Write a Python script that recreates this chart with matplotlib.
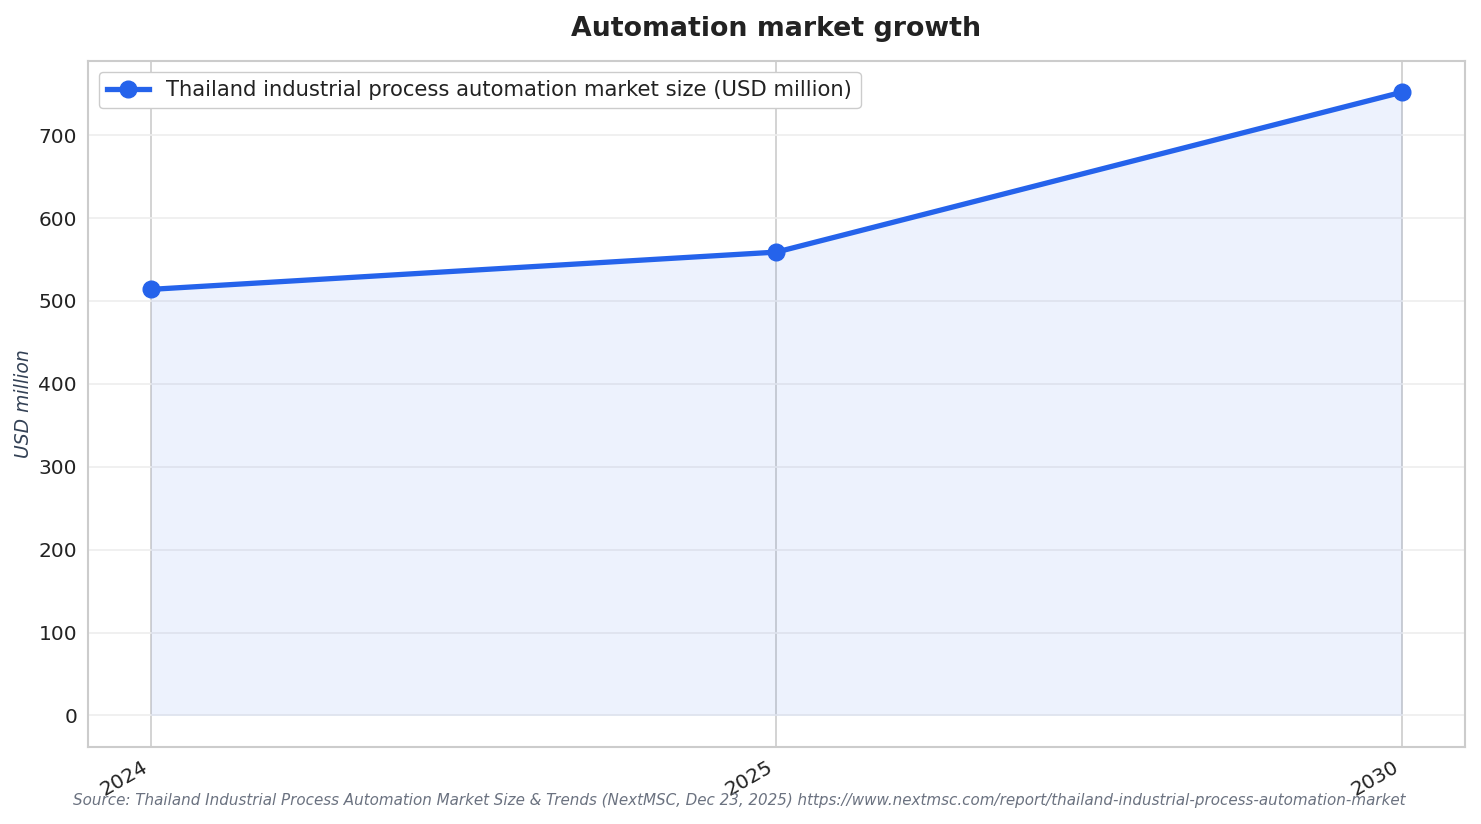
import numpy as np
import matplotlib.pyplot as plt

# === DATA ===
years = ["2024", "2025", "2030"]
market_size = [514, 559, 752]
series_label = "Thailand industrial process automation market size (USD million)"
source_txt = ("Source: Thailand Industrial Process Automation Market Size & Trends "
              "(NextMSC, Dec 23, 2025) https://www.nextmsc.com/report/"
              "thailand-industrial-process-automation-market")

LINE_COL = "#2563eb"

plt.rcParams.update({"font.family": "DejaVu Sans"})

fig, ax = plt.subplots(figsize=(14.81, 8.24), dpi=100)
fig.subplots_adjust(left=0.0595, right=0.989, top=0.926, bottom=0.094)

x = np.arange(len(years))
ax.fill_between(x, market_size, 0, color=LINE_COL, alpha=0.08, linewidth=0)
ax.plot(x, market_size, color=LINE_COL, linewidth=3.8, marker="o",
        markersize=12, label=series_label, zorder=3)

ax.set_xticks(x)
ax.set_xticklabels(years, rotation=30, ha="right")
ax.tick_params(axis="both", labelsize=14.5, length=0, pad=8, colors="#222222")
ax.grid(axis="x", color="#cccccc", linewidth=1.2)
ax.grid(axis="y", color="#eeeeee", linewidth=1.2)
ax.set_axisbelow(True)
for sp in ax.spines.values():
    sp.set_color("#cccccc")
    sp.set_linewidth(1.5)

ax.set_ylabel("USD million", fontsize=13.5, style="italic", color="#334155")
ax.set_title("Automation market growth", fontsize=19.3, fontweight="bold",
             color="#222222", pad=18)
leg = ax.legend(loc="upper left", fontsize=15.2, frameon=True, edgecolor="#cccccc",
                framealpha=1.0, borderaxespad=0.5)
for t in leg.get_texts():
    t.set_color("#222222")

fig.text(0.049, 0.028, source_txt, fontsize=10.9, style="italic", color="#6b7280",
         ha="left", va="center")

plt.savefig("out.png", dpi=100)
